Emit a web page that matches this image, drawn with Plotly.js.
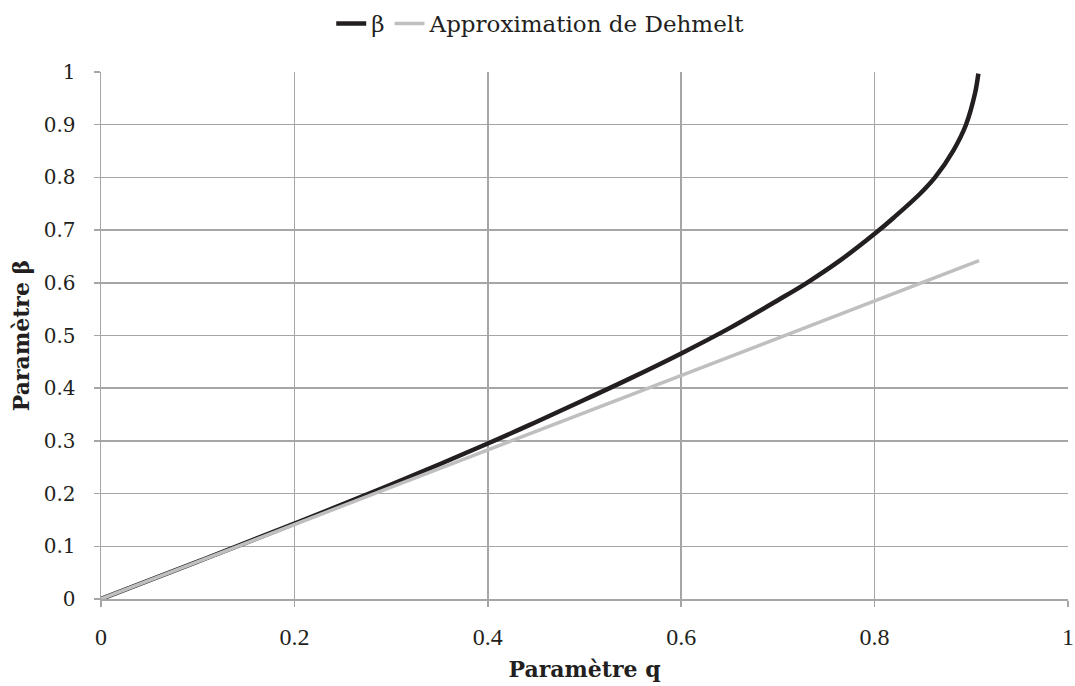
<!DOCTYPE html>
<html>
<head>
<meta charset="utf-8">
<script src="https://cdn.plot.ly/plotly-3.0.1.min.js"></script>
<style>html,body{margin:0;padding:0;background:#fff;}#chart{width:1075px;height:686px;}</style>
</head>
<body>
<div id="chart"></div>
<script>
// Values
const qBeta = [0, 0.1, 0.2, 0.3, 0.4, 0.45, 0.5, 0.55, 0.6, 0.65, 0.7, 0.73, 0.764, 0.8, 0.82, 0.847, 0.8625, 0.8814, 0.8945, 0.9038, 0.9073];
const beta  = [0, 0.071, 0.143, 0.217, 0.295, 0.336, 0.378, 0.421, 0.466, 0.514, 0.567, 0.600, 0.642, 0.693, 0.724, 0.769, 0.800, 0.851, 0.900, 0.959, 0.997];
const qDehmelt = [0, 0.908];
const dehmelt  = [0, 0.642];
const seriesNames = ['β', 'Approximation de Dehmelt'];
const yTickVals = [0, 0.1, 0.2, 0.3, 0.4, 0.5, 0.6, 0.7, 0.8, 0.9, 1];
const yTickText = ['0', '0.1', '0.2', '0.3', '0.4', '0.5', '0.6', '0.7', '0.8', '0.9', '1'];
const xTickVals = [0, 0.2, 0.4, 0.6, 0.8, 1];
const xTickText = ['0', '0.2', '0.4', '0.6', '0.8', '1'];

const font = 'DejaVu Serif, serif';
const grid = '#a6a6a6';
const ink = '#231f20';

const traces = [
  {x: qBeta, y: beta, name: seriesNames[0], mode: 'lines',
   line: {color: ink, width: 4.5, shape: 'spline', smoothing: 1}},
  {x: qDehmelt, y: dehmelt, name: seriesNames[1], mode: 'lines',
   line: {color: '#bfbfbf', width: 3.5}}
];

const layout = {
  width: 1075, height: 686,
  paper_bgcolor: '#fff', plot_bgcolor: '#fff',
  margin: {l: 101, r: 7, t: 72, b: 87},
  font: {family: font, size: 20, color: ink},
  showlegend: true,
  legend: {orientation: 'h', x: 0.503, xanchor: 'center', xref: 'container',
           y: 0.997, yanchor: 'top', yref: 'container',
           font: {family: font, size: 23, color: ink}, tracegroupgap: 0},
  xaxis: {range: [0, 1], tickvals: xTickVals, ticktext: xTickText,
          showgrid: true, gridcolor: grid, gridwidth: 1.5, zeroline: false,
          showline: true, linecolor: grid, linewidth: 1.5,
          ticks: 'outside', ticklen: 6, tickcolor: grid, tickwidth: 1.5,
          ticklabelstandoff: 10,
          tickfont: {family: 'Liberation Serif, serif', size: 24, color: ink},
          title: {text: '<b>Paramètre q</b>', font: {family: font, size: 22, color: ink}, standoff: 12}},
  yaxis: {range: [0, 1], tickvals: yTickVals, ticktext: yTickText,
          showgrid: true, gridcolor: grid, gridwidth: 1.5, zeroline: false,
          showline: true, linecolor: grid, linewidth: 1.5,
          ticks: 'outside', ticklen: 6, tickcolor: grid, tickwidth: 1.5,
          ticklabelstandoff: 14,
          tickfont: {family: font, size: 20, color: ink},
          title: {text: '<b>Paramètre β</b>', font: {family: font, size: 22, color: ink}, standoff: 8}}
};

Plotly.newPlot('chart', traces, layout, {displayModeBar: false, staticPlot: true});
</script>
</body>
</html>
